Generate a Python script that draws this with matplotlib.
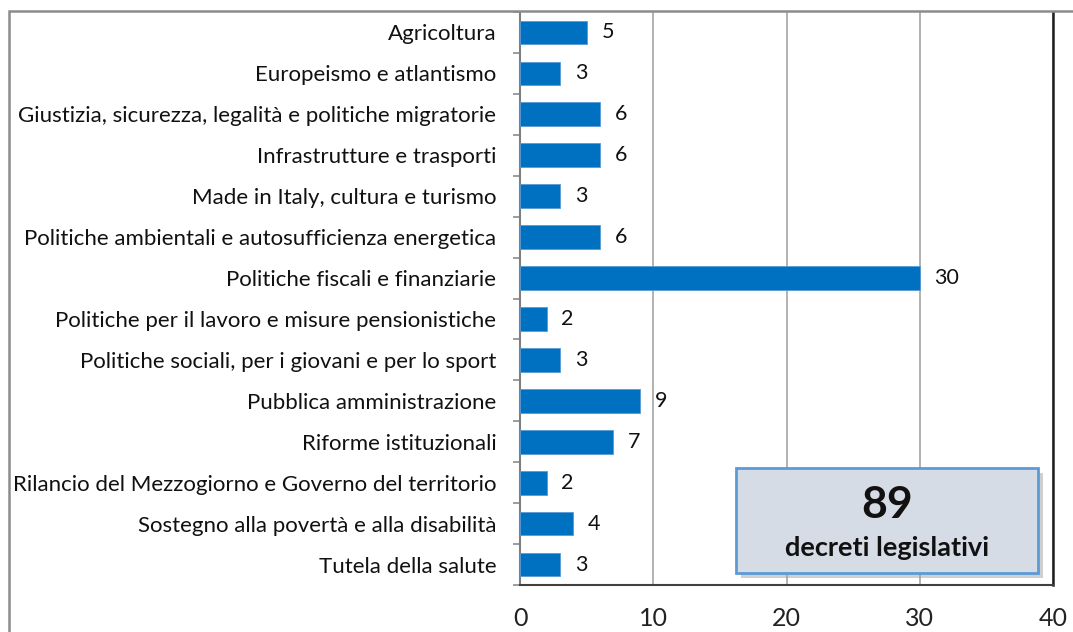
import matplotlib
matplotlib.use("Agg")
import matplotlib.pyplot as plt
import matplotlib.patches as mpatches
import numpy as np

# --- data ---
categories = [
    "Agricoltura",
    "Europeismo e atlantismo",
    "Giustizia, sicurezza, legalità e politiche migratorie",
    "Infrastrutture e trasporti",
    "Made in Italy, cultura e turismo",
    "Politiche ambientali e autosufficienza energetica",
    "Politiche fiscali e finanziarie",
    "Politiche per il lavoro e misure pensionistiche",
    "Politiche sociali, per i giovani e per lo sport",
    "Pubblica amministrazione",
    "Riforme istituzionali",
    "Rilancio del Mezzogiorno e Governo del territorio",
    "Sostegno alla povertà e alla disabilità",
    "Tutela della salute",
]
values = [5, 3, 6, 6, 3, 6, 30, 2, 3, 9, 7, 2, 4, 3]
x_ticks = [0, 10, 20, 30, 40]
total = 89
box_label = "decreti legislativi"

plt.rcParams['font.family'] = ['Lato', 'DejaVu Sans']

W, H = 1073, 632
fig = plt.figure(figsize=(W / 100, H / 100), dpi=100)

# outer frame (cropped on right and bottom)
frame = mpatches.Rectangle((9 / W, -0.1), 1.2, 1 - 11 / H + 0.1, transform=fig.transFigure,
                           fill=False, edgecolor='#8c8c8c', linewidth=1.8, zorder=0)
fig.patches.append(frame)

ax = fig.add_axes([520 / W, 47 / H, 533 / W, 573 / H])

y = np.arange(len(categories))
ax.barh(y, values, height=0.58, color='#0070C0', edgecolor='#5B9BD5', linewidth=0.6, zorder=3)
for yi, v in zip(y, values):
    ax.text(v + 1.1, yi, str(v), va='center', ha='left', fontsize=15.5, color='#111111')

ax.set_ylim(len(categories) - 0.5, -0.5)
ax.set_xlim(0, 40)
ax.set_yticks(y)
ax.set_yticklabels(categories, fontsize=16, color='#111111')
ax.set_yticks(np.arange(len(categories) + 1) - 0.5, minor=True)
ax.tick_params(axis='y', which='major', length=0, pad=17)
ax.tick_params(axis='y', which='minor', length=5, color='#8c8c8c', width=1.2, direction='out')
ax.set_xticks(x_ticks)
ax.set_xticklabels([str(t) for t in x_ticks], fontsize=18, color='#222222')
ax.tick_params(axis='x', length=0, pad=16)

ax.grid(axis='x', color='#a6a6a6', linewidth=1.2, zorder=0)
ax.spines['top'].set_visible(False)
ax.spines['left'].set_color('#7f7f7f')
ax.spines['left'].set_linewidth(1.5)
ax.spines['bottom'].set_color('#404040')
ax.spines['bottom'].set_linewidth(1.5)
ax.spines['right'].set_color('#202020')
ax.spines['right'].set_linewidth(1.8)

# summary box
bx0, by0, bw, bh = 736, 632 - 573, 302, 105
shadow = mpatches.Rectangle(((bx0 + 5) / W, (by0 - 5) / H), bw / W, bh / H, transform=fig.transFigure,
                            facecolor='#a0a0a0', edgecolor='none', alpha=0.5, zorder=5)
box = mpatches.Rectangle((bx0 / W, by0 / H), bw / W, bh / H, transform=fig.transFigure,
                         facecolor='#D6DCE5', edgecolor='#5B9BD5', linewidth=2, zorder=6)
fig.patches.append(shadow)
fig.patches.append(box)
fig.text((bx0 + bw / 2) / W, (by0 + 68) / H, str(total), ha='center', va='center',
         fontsize=32, fontweight='bold', color='#111111', zorder=7)
fig.text((bx0 + bw / 2) / W, (by0 + 25) / H, box_label, ha='center', va='center',
         fontsize=19.5, fontweight='bold', color='#111111', zorder=7)

fig.savefig("out.png", dpi=100)
